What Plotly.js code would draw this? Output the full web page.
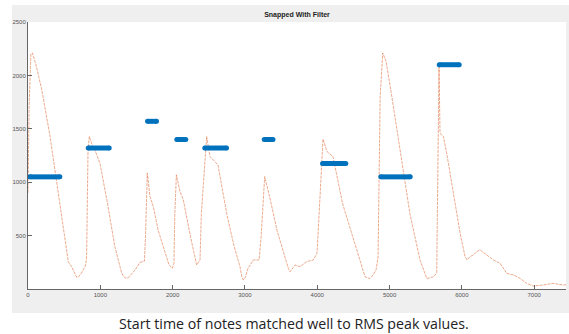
<!DOCTYPE html>
<html>
<head>
<meta charset="utf-8">
<script src="https://cdn.plot.ly/plotly-3.0.1.min.js"></script>
<style>html,body{margin:0;padding:0;background:#fff;}#chart{width:569px;height:334px;}</style>
</head>
<body>
<div id="chart"></div>
<script>
// RMS curve (filtered)
const rmsX = [0, 15, 40, 60, 110, 190, 300, 400, 480, 557, 610, 650, 673, 700, 740, 790, 810, 830, 848, 895, 925, 995,
  1100, 1200, 1296, 1330, 1355, 1390, 1420, 1480, 1550, 1610, 1625, 1650, 1687, 1733, 1800, 1900, 1950, 1996, 2019, 2030,
  2052, 2102, 2148, 2250, 2333, 2379, 2397, 2471, 2517, 2627, 2750, 2850, 2932, 2955, 2978, 3005, 3043, 3117, 3196, 3225,
  3273, 3346, 3443, 3600, 3624, 3693, 3762, 3855, 3946, 3997, 4025, 4080, 4135, 4218, 4350, 4591, 4660, 4700, 4730, 4765,
  4813, 4841, 4870, 4906, 4952, 5031, 5100, 5200, 5283, 5421, 5467, 5514, 5560, 5606, 5652, 5660, 5684, 5698, 5744,
  5790, 5836, 5905, 5975, 6044, 6072, 6113, 6159, 6205, 6251, 6343, 6435, 6528, 6620, 6712, 6805, 6897, 6985,
  7123, 7261, 7400, 7440];
const rmsY = [900, 1700, 2200, 2210, 2100, 1866, 1450, 1000, 620, 256, 200, 140, 110, 115, 150, 210, 280, 1300, 1428, 1334, 1300, 1178,
  800, 400, 147, 112, 100, 108, 130, 178, 250, 260, 500, 1085, 865, 772, 550, 320, 225, 194, 243, 700,
  1069, 912, 834, 480, 225, 272, 700, 1428, 1240, 1162, 700, 400, 209, 120, 84, 110, 194, 272, 272, 500,
  1053, 850, 550, 194, 162, 225, 209, 256, 272, 334, 700, 1403, 1287, 1240, 800, 272, 116, 102, 100, 125,
  178, 300, 1800, 2210, 2131, 1803, 1503, 1100, 700, 272, 178, 100, 104, 116, 147, 600, 2080, 1459, 1428,
  1272, 1084, 834, 525, 303, 272, 303, 319, 350, 366, 319, 272, 241, 147, 131, 100, 53, 28,
  37, 53, 37, 40];

// Snapped note segments
const noteStart = [25, 833, 1653, 2058, 2445, 3267, 4073, 4879, 5687];
const noteEnd   = [440, 1123, 1777, 2182, 2745, 3388, 4395, 5286, 5963];
const noteLevel = [1050, 1320, 1570, 1400, 1320, 1400, 1175, 1050, 2100];

const xTicks = [0, 1000, 2000, 3000, 4000, 5000, 6000, 7000];
const yTicks = [500, 1000, 1500, 2000, 2500];

const segX = [], segY = [];
for (let i = 0; i < noteStart.length; i++) {
  segX.push(noteStart[i], noteEnd[i], null);
  segY.push(noteLevel[i], noteLevel[i], null);
}

const traces = [
  {x: rmsX, y: rmsY, type: 'scatter', mode: 'lines',
   line: {color: 'rgba(217,83,25,0.5)', width: 1, dash: '3px,1px'}, hoverinfo: 'skip'},
  {x: segX, y: segY, type: 'scatter', mode: 'lines+markers',
   line: {color: '#0072BD', width: 5},
   marker: {color: '#0072BD', size: 5, symbol: 'circle'}, cliponaxis: false, hoverinfo: 'skip'}
];

const layout = {
  width: 569, height: 334,
  margin: {l: 28, r: 3, t: 22, b: 45},
  paper_bgcolor: '#ffffff',
  plot_bgcolor: '#ffffff',
  showlegend: false,
  title: {text: '<b>Snapped With Filter</b>', x: 0.522, xanchor: 'center', y: 0.955, yanchor: 'middle',
          font: {family: 'Liberation Sans Narrow, Liberation Sans, Arial', size: 7, color: '#222'}},
  xaxis: {range: [0, 7440], tickvals: xTicks, ticktext: xTicks.map(String),
          showgrid: false, zeroline: false, showline: true, linecolor: '#666', linewidth: 1,
          ticks: 'inside', ticklen: 4, tickcolor: '#666',
          tickfont: {family: 'Liberation Sans', size: 6, color: '#555'}},
  yaxis: {range: [0, 2500], tickvals: yTicks, ticktext: yTicks.map(String),
          showgrid: false, zeroline: false, showline: true, linecolor: '#666', linewidth: 1,
          ticks: 'inside', ticklen: 4, tickcolor: '#666',
          tickfont: {family: 'Liberation Sans', size: 6, color: '#555'}},
  shapes: [
    {type: 'rect', xref: 'paper', yref: 'paper', x0: -0.0297, x1: 1.01, y0: -0.0899, y1: 1.0637,
     fillcolor: '#efefef', line: {width: 0}, layer: 'below'},
    {type: 'rect', xref: 'paper', yref: 'paper', x0: 0, x1: 1, y0: 0, y1: 1,
     fillcolor: '#ffffff', line: {width: 0}, layer: 'below'}
  ],
  annotations: [
    {text: 'Start time of notes matched well to RMS peak values.', xref: 'paper', yref: 'paper',
     x: (294 - 28) / 538, y: (289 - 323) / 267, xanchor: 'center', yanchor: 'middle', showarrow: false,
     font: {family: 'Open Sans', size: 14.2, color: '#222'}}
  ]
};

Plotly.newPlot('chart', traces, layout, {staticPlot: true, displayModeBar: false});
</script>
</body>
</html>
